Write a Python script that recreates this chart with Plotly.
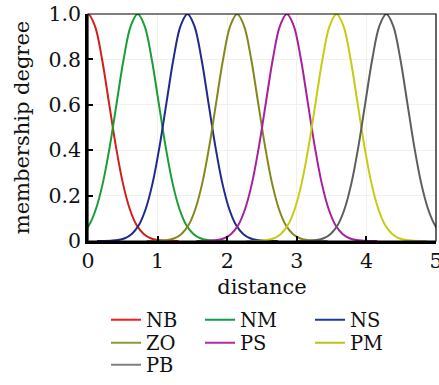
import plotly.graph_objects as go

# membership function labels and centres
labels = ["NB", "NM", "NS", "ZO", "PS", "PM", "PB"]
centers = [0.0, 0.714, 1.429, 2.143, 2.857, 3.571, 4.286]
colors = ["#d0201c", "#1a9e34", "#1f2a8c", "#84861e", "#a8209e", "#c6cc12", "#5e5e5e"]
legend_colors = ["#ff1a1a", "#129a48", "#1f3a96", "#8a9a3a", "#b42aa6", "#bcc21a", "#808080"]

# shape of one membership curve: offset from centre vs degree
shape_offset = [-1.3, -1.2, -1.1, -1.0, -0.9, -0.8, -0.7, -0.6, -0.5, -0.4, -0.3, -0.2, -0.1, 0.0,
                0.1, 0.2, 0.3, 0.4, 0.5, 0.6, 0.7, 0.8, 0.9, 1.0, 1.1, 1.2, 1.3]
shape_degree = [0.0, 0.0004, 0.0014, 0.004, 0.012, 0.031, 0.069, 0.141, 0.256, 0.418, 0.612, 0.804, 0.947, 1.0,
                0.947, 0.804, 0.612, 0.418, 0.256, 0.141, 0.069, 0.031, 0.012, 0.004, 0.0014, 0.0004, 0.0]

x_ticks = [0, 1, 2, 3, 4, 5]
y_ticks = [0, 0.2, 0.4, 0.6, 0.8, 1.0]
y_ticktext = ["0", "0.2", "0.4", "0.6", "0.8", "1.0"]

# legend slot (pixel column, pixel row) of each entry in the 3-column legend block
legend_names = ["legend", "legend2", "legend3", "legend4", "legend5", "legend6", "legend7"]
legend_px = [(106, 320), (200, 320), (310, 320), (106, 343), (200, 343), (310, 343), (106, 365)]

fig = go.Figure()
for lab, c, col, lcol, lg in zip(labels, centers, colors, legend_colors, legend_names):
    xs = [c + o for o in shape_offset]
    fig.add_trace(go.Scatter(x=xs, y=shape_degree, mode="lines", name=lab,
                             line=dict(color=col, width=2, shape="spline"),
                             legend=lg, showlegend=False, hoverinfo="skip"))
    # legend proxy
    fig.add_trace(go.Scatter(x=[None], y=[None], mode="lines", name=lab,
                             line=dict(color=lcol, width=2), legend=lg))

SERIF = "DejaVu Serif"


def f(size):
    return dict(family=SERIF, size=size, color="#111111")


def leg(px, py):
    return dict(font=f(19.5), bgcolor="rgba(0,0,0,0)", orientation="v",
                xanchor="left", yanchor="middle", tracegroupgap=0,
                x=(px - 88) / 348, y=(241 - py) / 227)


layout_legends = {name: leg(px, py) for name, (px, py) in zip(legend_names, legend_px)}

fig.update_layout(
    width=439, height=385,
    margin=dict(l=88, r=3, t=14, b=144, autoexpand=False),
    paper_bgcolor="white", plot_bgcolor="white",
    font=f(21),
    xaxis=dict(range=[0, 5], tickvals=x_ticks, ticktext=[str(v) for v in x_ticks],
               ticks="inside", ticklen=5, tickwidth=1.5, tickcolor="black",
               showline=True, linewidth=2.5, linecolor="black",
               showgrid=True, gridcolor="#f1f1ea", gridwidth=1, zeroline=False,
               ticklabeloverflow="allow", automargin=False,
               title=dict(text="distance", standoff=7, font=f(21)), tickfont=f(20.5)),
    yaxis=dict(range=[0, 1.0], tickvals=y_ticks, ticktext=y_ticktext,
               ticks="inside", ticklen=5, tickwidth=1.5, tickcolor="black",
               showline=True, linewidth=2.5, linecolor="black",
               showgrid=True, gridcolor="#f1f1ea", gridwidth=1, zeroline=False,
               ticklabeloverflow="allow", automargin=False,
               title=dict(text="membership degree", standoff=14, font=f(21)), tickfont=f(20.5)),
    shapes=[dict(type="rect", xref="paper", yref="paper", x0=0, x1=1, y0=0, y1=1,
                 line=dict(color="black", width=1.2), layer="above")],
    **layout_legends,
)

fig.write_html("out.html")
